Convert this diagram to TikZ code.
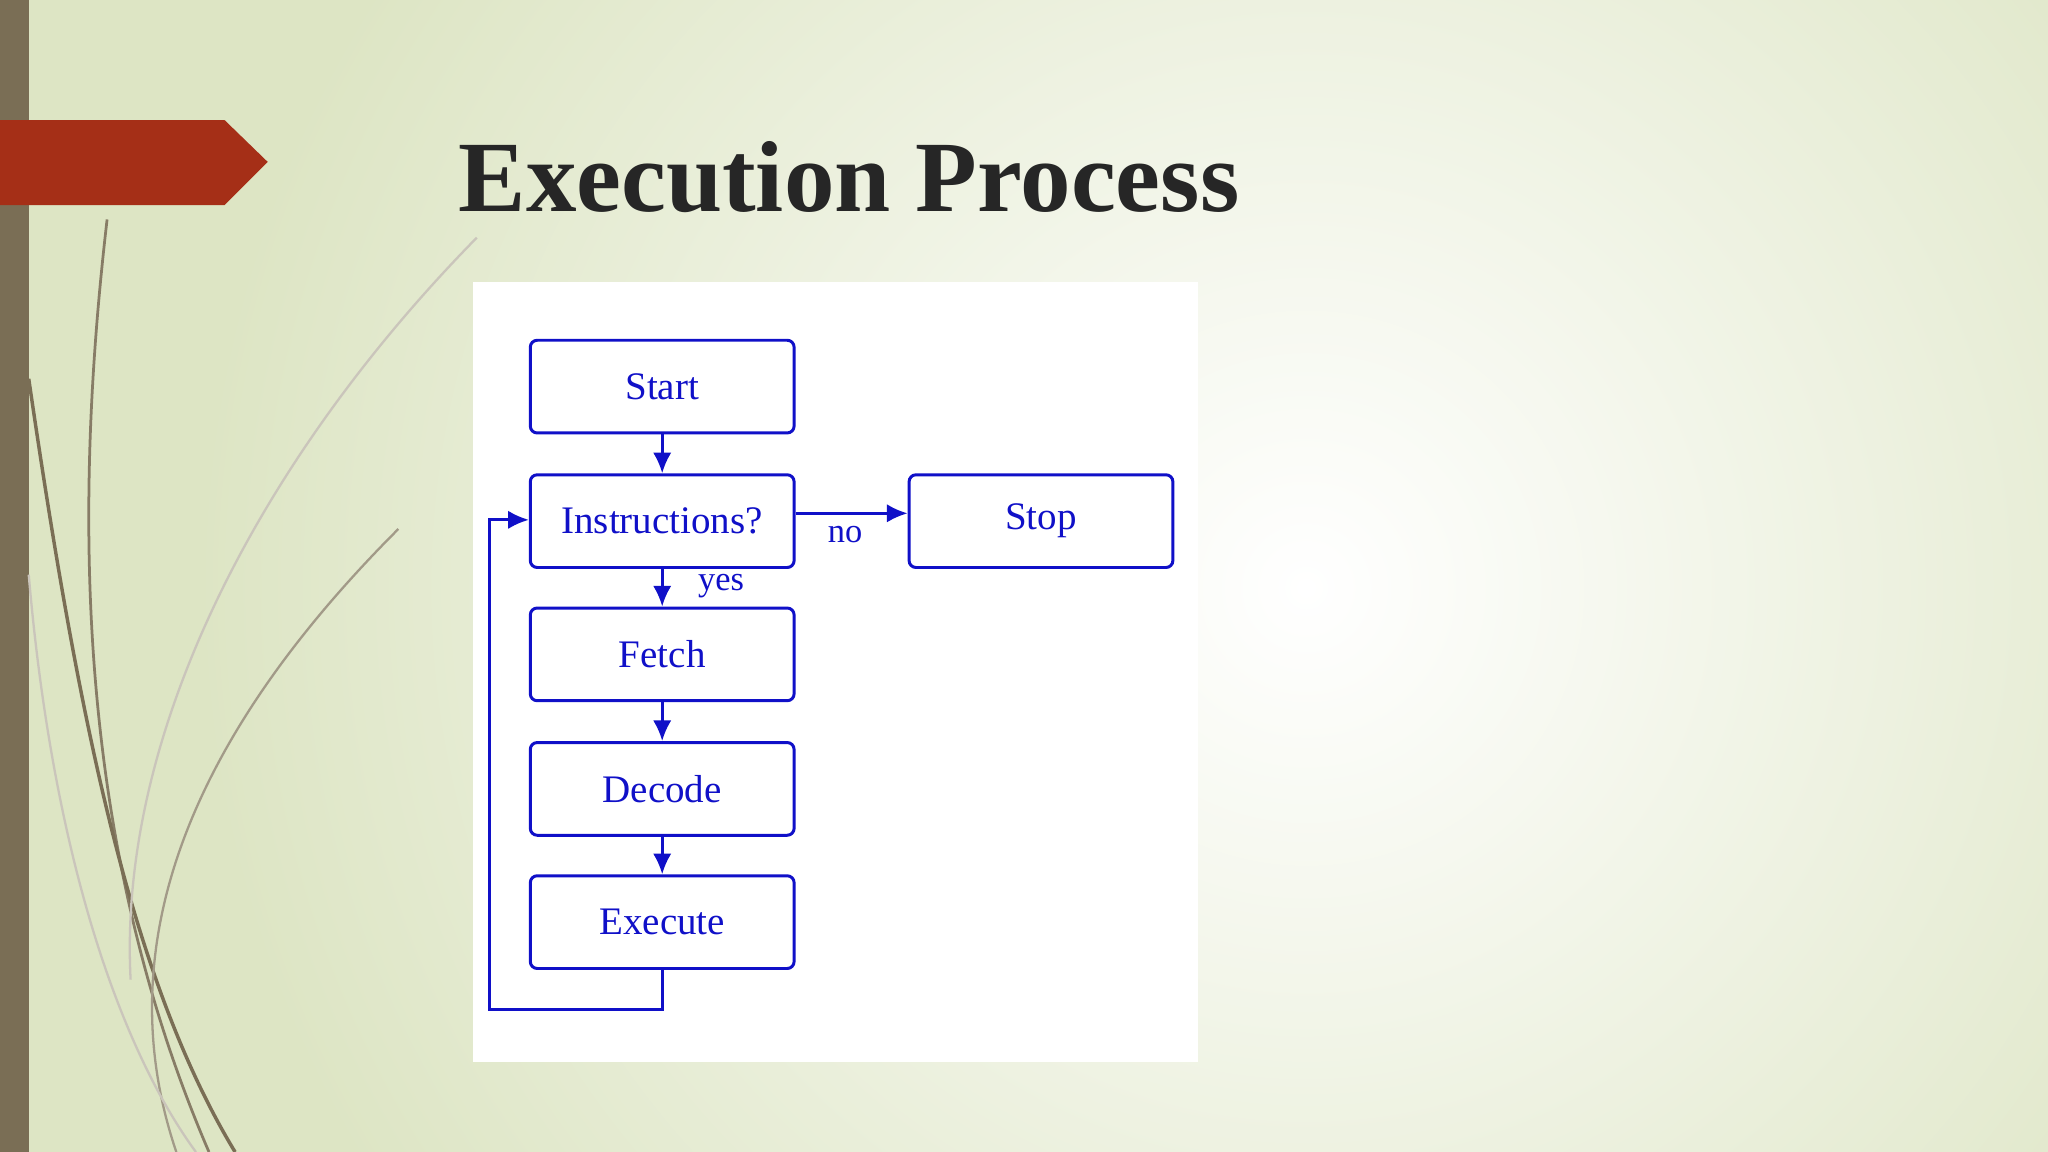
\documentclass[tikz,border=0pt]{standalone}
\usepackage{fontspec}
\setmainfont{Liberation Serif}
\usetikzlibrary{arrows.meta}
\definecolor{fb}{HTML}{1010C8}
\definecolor{bgedge}{HTML}{DDE5C4}
\definecolor{barc}{HTML}{7A6E55}
\definecolor{redc}{HTML}{A52F17}
\begin{document}
\begin{tikzpicture}[x=0.02cm,y=-0.02cm,
  fbox/.style={draw=fb,line width=1.3pt,rounded corners=3pt,minimum width=4.04cm,minimum height=1.42cm,text=fb,font=\fontsize{17}{20}\selectfont,inner sep=0pt},
  arr/.style={draw=fb,line width=1.2pt,-{Latex[length=9pt,width=8pt]}},
  lbl/.style={text=fb,font=\fontsize{15}{18}\selectfont}]
\useasboundingbox (0,0) rectangle (1568,882);
\fill[bgedge] (0,0) rectangle (1568,882);
\shade[inner color=white,outer color=bgedge] (150,-400) rectangle (1850,1300);
\fill[barc] (0,0) rectangle (22,882);
\fill[redc] (0,92) -- (172,92) -- (205,124) -- (172,157) -- (0,157) -- cycle;
\draw[barc!90,line width=1.2pt] (82,168) .. controls (55,400) and (60,650) .. (160,882);
\draw[barc,line width=1.5pt] (22,290) .. controls (60,550) and (100,750) .. (180,882);
\draw[barc!70,line width=1pt] (305,405) .. controls (150,560) and (80,720) .. (135,882);
\draw[barc!40,line width=1pt] (365,182) .. controls (200,350) and (90,560) .. (100,750);
\draw[barc!40,line width=1pt] (22,440) .. controls (40,650) and (90,800) .. (150,882);
\node[anchor=base west,font=\fontsize{44}{48}\selectfont\bfseries,text=black!85] at (345,162) {Execution Process};
\fill[white] (362,216) rectangle (917,813);
\node[fbox] (start) at (507,296) {Start};
\node[fbox] (instr) at (507,399) {Instructions?};
\node[fbox] (fetch) at (507,501) {Fetch};
\node[fbox] (decode) at (507,604) {Decode};
\node[fbox] (exec) at (507,706) {Execute};
\node[fbox] (stop) at (797,399) {Stop};
\draw[arr] (start) -- (instr);
\draw[arr] (instr) -- (fetch);
\draw[arr] (fetch) -- (decode);
\draw[arr] (decode) -- (exec);
\draw[arr] (instr.east |- 0,393) -- (stop.west |- 0,393);
\node[lbl] (no) at (647,409) {no};
\node[lbl] (yes) at (552,449) {yes};
\coordinate (c1) at (507,773);
\coordinate (c2) at (375,773);
\coordinate (c3) at (375,398);
\draw[arr] (exec.south) -- (c1) -- (c2) -- (c3) -- (instr.west |- c3);
\end{tikzpicture}
\end{document}
